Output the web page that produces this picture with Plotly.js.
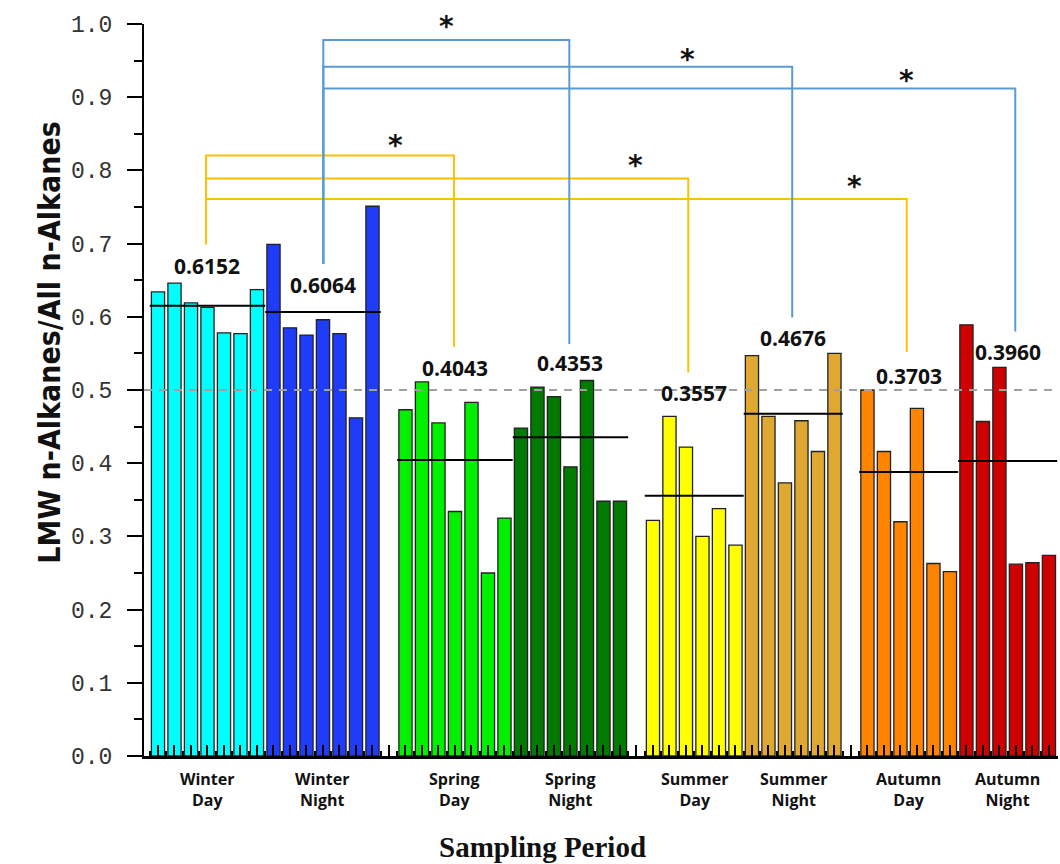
<!DOCTYPE html>
<html><head><meta charset="utf-8">
<script src="https://cdn.plot.ly/plotly-3.0.1.min.js"></script>
<style>html,body{margin:0;padding:0;background:#fff}#chart{width:1060px;height:864px}</style>
</head><body><div id="chart"></div>
<script>
// ---------------- DATA ----------------
const groupNames = ['Winter Day','Winter Night','Spring Day','Spring Night','Summer Day','Summer Night','Autumn Day','Autumn Night'];
const winterDay   = [0.634,0.646,0.619,0.613,0.578,0.577,0.637];
const winterNight = [0.699,0.585,0.575,0.596,0.577,0.462,0.751];
const springDay   = [0.473,0.511,0.455,0.334,0.483,0.250,0.325];
const springNight = [0.448,0.504,0.491,0.395,0.513,0.348,0.348];
const summerDay   = [0.322,0.464,0.422,0.300,0.338,0.288];
const summerNight = [0.547,0.464,0.373,0.458,0.416,0.550];
const autumnDay   = [0.500,0.416,0.320,0.475,0.263,0.252];
const autumnNight = [0.589,0.457,0.531,0.262,0.264,0.274];
const meanLabels  = ['0.6152','0.6064','0.4043','0.4353','0.3557','0.4676','0.3703','0.3960'];
const meanLineY   = [0.6152,0.6064,0.4043,0.4353,0.3557,0.4676,0.388,0.403];
// significant comparisons: [from group, to group]
const comparisons = [[0,2],[0,4],[0,6],[1,3],[1,5],[1,7]];
const yTickVals = [0,0.1,0.2,0.3,0.4,0.5,0.6,0.7,0.8,0.9,1.0];
const yTickText = ['0.0','0.1','0.2','0.3','0.4','0.5','0.6','0.7','0.8','0.9','1.0'];

// ---------------- STYLE / LAYOUT ----------------
const groupValues = [winterDay,winterNight,springDay,springNight,summerDay,summerNight,autumnDay,autumnNight];
const barColors = ['#00FFFF','#1F3CFA','#00F000','#007A00','#FFFF00','#DFA832','#FF8500','#CE0000'];
const labelY = [0.670,0.644,0.530,0.537,0.496,0.571,0.519,0.552];
const bracketDx = [-0.09,0.02,-0.06,-0.07,-0.36,-0.06,-0.12,0.46];
const bracketFoot = [0.699,0.672,0.559,0.563,0.524,0.599,0.552,0.580];
const bracketLevel = [0.8205,0.789,0.761,0.978,0.9415,0.912];
const bracketColor = ['#FFC000','#FFC000','#FFC000','#5B9BD5','#5B9BD5','#5B9BD5'];
const starPos = [[15.42,0.834],[29.97,0.807],[43.24,0.778],[18.5,0.996],[33.12,0.952],[46.38,0.923]];

// slot positions
let slot = 1; const groupX = [];
groupValues.forEach((vals,i)=>{
  groupX.push(vals.map((_,j)=>slot+j));
  slot += vals.length;
  if (i%2===1) slot += 1;
});
const groupCenter = groupX.map(xs=>(xs[0]+xs[xs.length-1])/2);

const traces = [];
groupValues.forEach((vals,i)=>{
  traces.push({type:'bar', x:groupX[i], y:vals, width:0.8,
    marker:{color:barColors[i], line:{color:'#222', width:1.3}},
    showlegend:false, hoverinfo:'skip'});
});
groupValues.forEach((vals,i)=>{
  const xs = groupX[i];
  traces.push({type:'scatter', mode:'lines', x:[xs[0]-0.5, xs[xs.length-1]+0.5], y:[meanLineY[i],meanLineY[i]],
    line:{color:'#000', width:2}, showlegend:false, hoverinfo:'skip'});
});
comparisons.forEach(([a,b],k)=>{
  const xa = groupCenter[a]+bracketDx[a], xb = groupCenter[b]+bracketDx[b];
  traces.push({type:'scatter', mode:'lines', x:[xa,xa,xb,xb], y:[bracketFoot[a],bracketLevel[k],bracketLevel[k],bracketFoot[b]],
    line:{color:bracketColor[k], width:2}, showlegend:false, hoverinfo:'skip', cliponaxis:false});
});

const annotations = [];
meanLabels.forEach((t,i)=>{
  annotations.push({x:groupCenter[i], y:labelY[i], xref:'x', yref:'y', text:'<b>'+t+'</b>', showarrow:false,
    font:{family:'Open Sans, Noto Sans, sans-serif', size:21, color:'#111'}});
});
starPos.forEach(p=>{
  annotations.push({x:p[0], y:p[1], xref:'x', yref:'y', text:'<b>*</b>', showarrow:false,
    font:{family:'DejaVu Sans, sans-serif', size:28, color:'#111'}});
});
groupNames.forEach((n,i)=>{
  annotations.push({x:groupCenter[i], y:-0.014, xref:'paper', yref:'paper', yanchor:'top', text:'<b>'+n.replace(' ','<br>')+'</b>',
    showarrow:false, font:{family:'Open Sans, Noto Sans, sans-serif', size:16, color:'#111'}});
  annotations[annotations.length-1].xref = 'x';
});
annotations.push({x:0.4355, y:-0.124, xref:'paper', yref:'paper', yanchor:'middle', text:'<b>Sampling Period</b>', showarrow:false,
  font:{family:'Liberation Serif, Times New Roman, serif', size:29, color:'#111'}});
annotations.push({x:-0.1247, y:0.564, xref:'paper', yref:'paper', textangle:-90, text:'<b>LMW n-Alkanes/All n-Alkanes</b>', showarrow:false,
  font:{family:'Liberation Sans Narrow, DejaVu Sans Condensed, Arial Narrow, sans-serif', size:30, color:'#111'}});

const layout = {
  width:1060, height:864,
  margin:{l:144, r:2, t:24, b:108},
  paper_bgcolor:'#fff', plot_bgcolor:'#fff',
  barmode:'overlay',
  showlegend:false,
  xaxis:{range:[0.152,55.55], showgrid:false, zeroline:false, showline:true, linecolor:'#000', linewidth:3,
    tickmode:'linear', tick0:0, dtick:1, ticks:'inside', ticklen:11, tickwidth:2, tickcolor:'#000', showticklabels:false,
    minor:{tick0:0, dtick:0.5, ticks:'inside', ticklen:5, tickwidth:2, tickcolor:'#000'}},
  yaxis:{range:[0,1.0], showgrid:false, zeroline:false, showline:true, linecolor:'#000', linewidth:2,
    tickmode:'array', tickvals:yTickVals, ticktext:yTickText, ticks:'outside', ticklen:15, tickwidth:2, tickcolor:'#000',
    ticklabelstandoff:10,
    tickfont:{family:'Liberation Mono, Courier New, monospace', size:23, color:'#333'},
    minor:{dtick:0.05, ticks:'outside', ticklen:8, tickwidth:2, tickcolor:'#000'}},
  shapes:[{type:'line', xref:'paper', yref:'y', x0:0, x1:1, y0:0.5, y1:0.5, layer:'above',
    line:{color:'#A0A0A0', width:2, dash:'8px,7px'}}],
  annotations:annotations
};
Plotly.newPlot('chart', traces, layout, {displayModeBar:false, staticPlot:true});
</script></body></html>
